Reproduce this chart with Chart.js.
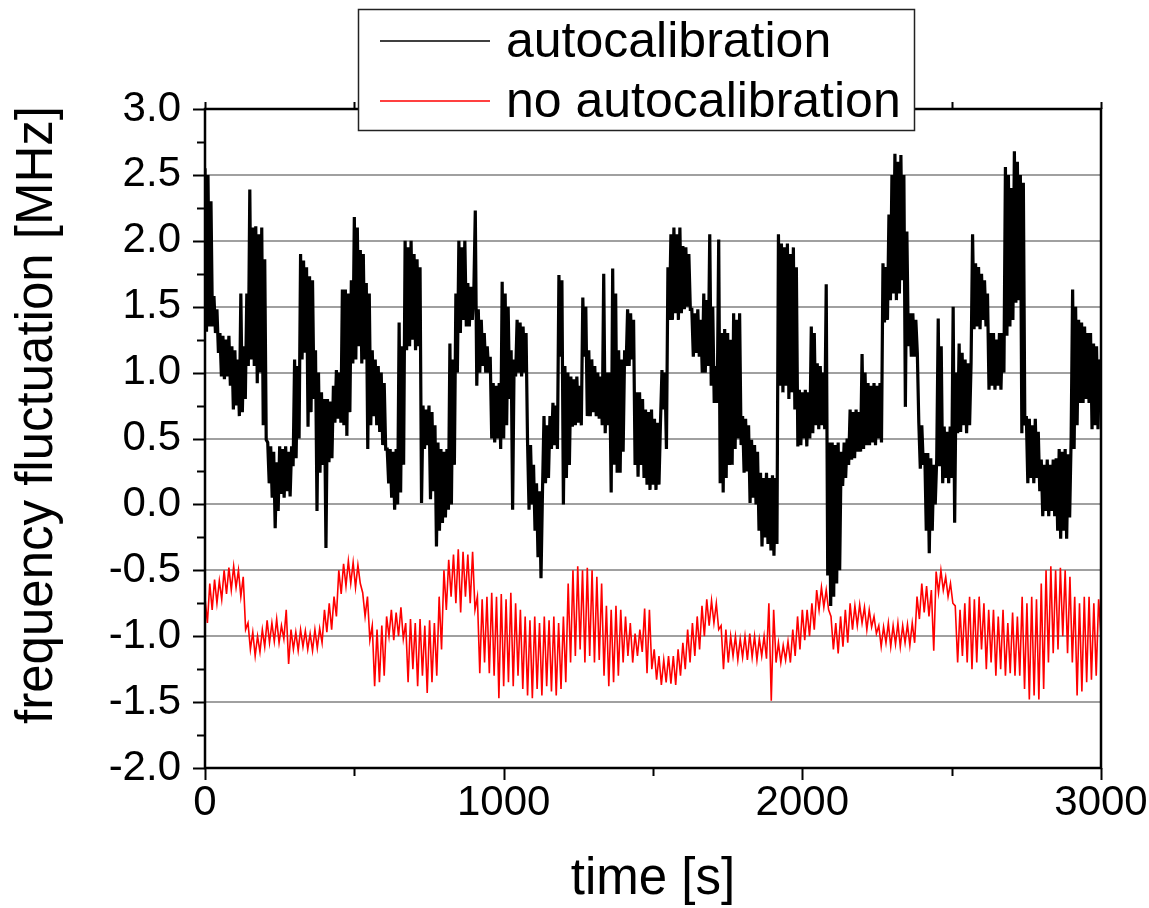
<!DOCTYPE html>
<html>
<head>
<meta charset="utf-8">
<script src="https://cdn.jsdelivr.net/npm/chart.js@4.4.1/dist/chart.umd.min.js"></script>
<style>
  html, body { margin: 0; padding: 0; background: #fff; }
  #wrap { width: 1149px; height: 908px; }
</style>
</head>
<body>
<div id="wrap"><canvas id="freq_chart" width="1149" height="908"></canvas></div>
<script>
// sample spacing of the two records, in s (0 .. 3000 s)
const auto_step = 5;
const noauto_step = 8;
const series_labels = ["autocalibration", "no autocalibration"];
const x_tick_values = [0, 1000, 2000, 3000];
const y_tick_values = [-2.0, -1.5, -1.0, -0.5, 0.0, 0.5, 1.0, 1.5, 2.0, 2.5, 3.0];

// MHz, with autocalibration (black), one value every 5 s
const auto_values = [
  2.55, 1.31, 2.5, 1.35, 2.3,
  1.35, 1.58, 1.3, 1.48, 1.15,
  1.3, 0.97, 1.28, 0.95, 1.25, 0.97, 1.28, 0.9, 1.2,
  0.72, 1.17, 0.75, 1.1,
  0.67, 1.6, 0.7, 1.2,
  0.8, 1.6, 1.05, 2.39, 1.1,
  2.1, 1.05, 2.11, 0.92, 2.05, 1.0, 2.1,
  0.6, 1.86, 0.49,
  0.47, 0.16, 0.44, 0.05, 0.4, -0.18, 0.32, -0.05,
  0.44, 0.08, 0.42, 0.05, 0.44, 0.1, 0.4, 0.06, 0.44,
  0.29, 1.1, 0.35, 1.05, 0.5,
  1.9, 1.1, 1.85, 1.15, 1.8,
  0.59, 1.73, 0.7, 1.7, 0.8,
  1.17, -0.05, 1.0,
  0.24, 0.85, 0.3, 0.8, -0.33,
  0.8, 0.32, 0.78, 0.35, 0.9,
  0.62, 1.02, 0.65, 1.0, 0.62, 1.63,
  0.6, 1.63, 0.52, 1.6, 0.7, 1.7,
  1.07, 2.18, 1.1, 2.1, 1.2,
  1.93, 1.07, 1.9, 1.1, 1.68,
  0.42, 1.6, 0.6,
  1.17, 0.67, 1.1, 0.6, 1.05, 0.55, 1.0, 0.45, 0.92, 0.42,
  0.42, 0.16, 0.42, 0.05, 0.4, -0.04, 0.42, 0.0,
  1.38, 0.09, 1.2, 0.3,
  2.0, 1.17, 1.95, 1.2, 2.0, 1.25, 1.9, 1.17,
  1.86, 1.2, 1.8, 0.01,
  0.75, 0.42, 0.72, 0.45,
  0.75, 0.04, 0.7, 0.1, 0.6,
  -0.32, 0.47, -0.2,
  0.42, -0.14, 0.4, -0.1, 0.42, -0.04,
  1.22, 0.0, 1.1, 0.3, 1.6, 1.0,
  2.0, 1.3, 1.95, 1.4, 2.0, 1.35,
  1.68, 1.35, 1.65, 1.4, 1.6,
  2.23,
  0.9, 1.48, 1.0, 1.4, 1.05, 1.3, 1.0, 1.2, 1.0, 1.12,
  0.5, 0.92, 0.47, 0.9, 0.5, 0.92,
  0.42, 1.69, 0.5, 1.6, 0.6, 1.5, 0.8,
  1.17, -0.04, 1.1,
  0.97, 1.4, 1.0, 1.38, 0.97, 1.35, 1.0, 1.3,
  0.47, -0.04, 0.45, 0.0, 0.3,
  -0.2, 0.16, -0.4, 0.1, -0.56, 0.1,
  0.67, 0.16, 0.6, 0.2, 0.67,
  0.42, 0.77, 0.45, 0.75, 0.42,
  1.74, 1.12, 1.7,
  0.0, 1.05, 0.2, 1.0, 0.3,
  0.97, 0.59, 0.95, 0.6, 0.97, 0.62, 0.9, 0.6,
  1.57, 1.12, 1.5,
  0.67, 1.17, 0.67, 1.1, 0.7, 1.05, 0.67, 1.0, 0.65, 0.97, 0.6,
  1.75, 0.54, 1.0, 0.6, 1.0,
  0.09, 1.79, 0.3, 1.6, 0.24,
  1.17, 0.24, 1.1, 0.4, 1.17,
  1.05, 1.48, 1.05, 1.45, 1.1, 1.4,
  0.3, 0.85, 0.21, 0.85, 0.3, 0.8,
  0.2, 0.72, 0.15, 0.7, 0.11, 0.72, 0.15, 0.65, 0.11, 0.62, 0.15, 0.62,
  1.02, 0.72, 1.0,
  0.42, 1.8, 1.4, 2.05, 1.4, 2.1, 1.45, 2.05, 1.4, 2.1, 1.45,
  1.96, 1.48, 1.95, 1.5, 1.9, 1.48,
  1.48, 1.12, 1.45, 1.15, 1.48, 1.12, 1.4,
  1.0, 1.6, 1.0, 1.55, 1.05,
  2.05, 0.9, 1.5,
  0.77, 1.05, 0.77,
  2.01, 0.16, 1.3,
  0.09, 1.33, 0.2, 1.3, 0.3, 1.25, 0.3,
  1.45, 0.42, 1.4, 0.5, 1.45, 0.45,
  0.67, 0.24, 0.65, 0.25, 0.6,
  0.01, 0.49, 0.05, 0.45, 0.0, 0.4,
  -0.2, 0.24, -0.32, 0.2, -0.25, 0.24, -0.3, 0.2, -0.35, 0.22, -0.39, 0.2, -0.3,
  2.05, 0.9, 1.98, 0.85, 1.95, 0.9, 1.98, 0.8, 1.9, 0.85, 1.95, 0.72, 1.8,
  0.44, 0.87, 0.45, 0.85, 0.5, 0.87, 0.44, 0.85, 0.5,
  1.35, 0.54, 1.3, 0.6,
  1.07, 0.57, 1.05, 0.6, 1.0, 0.57,
  1.67, -0.54, 0.47,
  -0.77, 0.47, -0.7, 0.45, -0.6, 0.47, -0.5, 0.4,
  0.14, 0.47, 0.2, 0.5, 0.3,
  0.72, 0.34, 0.7, 0.35, 0.72, 0.4, 0.7, 0.4,
  1.14, 0.42, 1.0, 0.45, 0.92,
  0.45, 0.9, 0.47, 0.92, 0.45, 0.9, 0.5, 0.92, 0.47,
  1.83, 1.38, 1.8, 1.4, 2.2,
  1.55, 2.5, 1.6, 2.66, 1.55, 2.6, 1.6, 2.65, 1.7, 2.5,
  0.74, 2.07, 1.2, 1.45, 1.12,
  1.45, 1.12, 1.4, 1.15,
  0.62, 0.27, 0.6, 0.3, 0.39,
  -0.2, 0.39, -0.37, 0.35, -0.2, 0.3, 0.0, 0.35,
  1.41, 0.29, 1.2,
  0.16, 0.59, 0.2, 0.55, 0.16, 0.59, 0.2,
  1.5, -0.14, 1.0,
  0.54, 1.22, 0.55, 1.15, 0.6, 1.1, 0.54, 1.07, 0.6, 1.07,
  2.05,
  1.33, 1.83, 1.35, 1.8, 1.33, 1.75, 1.4, 1.7, 1.35, 1.6,
  0.87, 1.3, 0.9, 1.3, 0.87, 1.25, 0.9, 1.3, 0.87, 1.3, 1.0,
  2.56, 1.28, 2.5, 1.35, 2.4, 1.4,
  2.68, 1.53, 2.6, 1.55, 2.5,
  0.54, 2.44, 0.6,
  0.67, 0.16, 0.65, 0.2, 0.6, 0.16, 0.65, 0.2, 0.55, 0.1,
  0.34, -0.09, 0.3, -0.05, 0.34, -0.09, 0.3, -0.05, 0.34, -0.09, 0.35,
  -0.2, 0.42, -0.26, 0.4, -0.2, 0.42, -0.26, 0.38, -0.1, 0.5,
  1.63, 0.42, 1.5, 0.6, 1.4, 0.77,
  1.38, 0.77, 1.35, 0.8, 1.3, 0.77, 1.3,
  0.57, 1.22, 0.6, 1.2, 0.57, 1.1, 0.9
];

// MHz, without autocalibration (red), one value every 8 s
const noauto_values = [
  -0.71, -0.9, -0.6, -0.8, -0.57, -0.75, -0.58, -0.72, -0.5, -0.68,
  -0.48, -0.65, -0.47, -0.63, -0.5, -0.7, -0.55, -0.95, -0.9, -1.1,
  -0.97, -1.15, -1.0, -1.12, -0.95, -1.08, -0.88, -1.05, -0.9, -1.04,
  -0.87, -1.05, -0.92, -1.02, -0.8, -1.21, -0.95, -1.1, -0.97, -1.11,
  -0.95, -1.08, -0.96, -1.1, -0.98, -1.11, -0.95, -1.09, -0.94, -1.05,
  -0.8, -0.97, -0.75, -0.95, -0.7, -0.85, -0.5, -0.68, -0.45, -0.62,
  -0.43, -0.6, -0.44, -0.63, -0.46, -0.6, -0.67, -0.85, -0.7, -1.03,
  -0.92, -1.38, -0.95, -1.35, -0.92, -1.3, -0.85, -1.0, -0.8, -1.03,
  -0.82, -1.0, -0.78, -1.02, -0.9, -1.35, -0.87, -1.25, -0.9, -1.38,
  -0.87, -1.3, -0.92, -1.43, -0.88, -1.35, -0.9, -1.3, -0.7, -1.1,
  -0.5, -0.8, -0.42, -0.7, -0.38, -0.75, -0.34, -0.82, -0.36, -0.7,
  -0.38, -0.75, -0.36, -0.8, -0.7, -1.28, -0.72, -1.2, -0.7, -1.28,
  -0.67, -1.3, -0.7, -1.47, -0.68, -1.38, -0.72, -1.35, -0.67, -1.38,
  -0.75, -1.3, -0.8, -1.4, -0.85, -1.45, -0.88, -1.47, -0.85, -1.4,
  -0.9, -1.45, -0.85, -1.38, -0.88, -1.42, -0.85, -1.45, -0.9, -1.4,
  -0.85, -1.35, -0.6, -1.2, -0.5, -1.15, -0.47, -1.1, -0.5, -1.2,
  -0.48, -1.15, -0.5, -1.2, -0.55, -1.18, -0.6, -1.3, -0.77, -1.38,
  -0.8, -1.35, -0.77, -1.3, -0.8, -1.2, -0.85, -1.15, -0.9, -1.2,
  -0.98, -1.15, -0.95, -1.12, -0.79, -1.28, -0.8, -1.25, -1.1, -1.33,
  -1.15, -1.37, -1.18, -1.35, -1.15, -1.36, -1.15, -1.37, -1.1, -1.3,
  -1.05, -1.25, -0.95, -1.2, -0.9, -1.15, -0.85, -1.1, -0.77, -1.0,
  -0.72, -0.92, -0.73, -0.9, -0.75, -0.95, -0.92, -1.25, -0.95, -1.2,
  -1.0, -1.15, -1.0, -1.18, -1.02, -1.16, -1.0, -1.18, -0.98, -1.16,
  -1.0, -1.18, -1.02, -1.15, -1.0, -1.17, -0.75, -1.49, -0.8, -1.2,
  -1.05, -1.2, -1.07, -1.18, -1.04, -1.2, -0.95, -1.15, -0.85, -1.1,
  -0.8, -1.03, -0.8, -1.0, -0.75, -0.95, -0.65, -0.8, -0.63, -0.78,
  -0.65, -0.8, -0.85, -1.1, -0.9, -1.13, -0.85, -1.08, -0.8, -1.05,
  -0.75, -0.95, -0.77, -0.92, -0.76, -0.9, -0.78, -0.95, -0.8, -0.93,
  -0.85, -0.98, -0.92, -1.08, -0.93, -1.05, -0.9, -1.08, -0.92, -1.06,
  -0.9, -1.08, -0.92, -1.05, -0.91, -1.07, -0.9, -1.05, -0.7, -0.87,
  -0.6, -0.82, -0.62, -0.85, -0.65, -1.11, -0.51, -0.67, -0.5, -0.65,
  -0.55, -0.7, -0.6, -0.75, -0.77, -1.2, -0.8, -1.15, -0.75, -1.2,
  -0.7, -1.25, -0.72, -1.2, -0.7, -1.1, -0.75, -1.25, -0.8, -1.2,
  -0.8, -1.3, -0.85, -1.25, -0.8, -1.3, -0.9, -1.28, -0.82, -1.3,
  -0.85, -1.3, -0.7, -1.4, -0.75, -1.48, -0.7, -1.45, -0.72, -1.48,
  -0.6, -1.4, -0.5, -1.2, -0.47, -1.13, -0.5, -1.1, -0.48, -1.0,
  -0.5, -1.13, -0.55, -1.2, -0.7, -1.45, -0.75, -1.42, -0.7, -1.35,
  -0.7, -1.33, -0.75, -1.3, -0.72, -1.0
];

const ctx = document.getElementById("freq_chart").getContext("2d");
const font_family = "'Liberation Sans', Arial, sans-serif";
Chart.defaults.font.family = font_family;
Chart.defaults.color = "#000";

// value list -> {x, y} with the sample time
function toPoints(values, step) {
  return values.map((v, i) => ({ x: i * step, y: v }));
}

// frame, tick marks, axis titles and the boxed legend
const frame_plugin = {
  id: "frame_plugin",
  afterDraw(chart) {
    const c = chart.ctx;
    const area = chart.chartArea;
    const xs = chart.scales.x;
    const ys = chart.scales.y;
    c.save();
    c.strokeStyle = "#000";

    // y ticks (outside, left)
    c.lineWidth = 2;
    for (let v = -2; v <= 3.001; v += 0.25) {
      const py = Math.round(ys.getPixelForValue(v)) + 0.5;
      const len = Math.abs(v * 2 - Math.round(v * 2)) < 0.01 ? 12 : 8;
      c.beginPath();
      c.moveTo(area.left - len, py);
      c.lineTo(area.left, py);
      c.stroke();
    }
    // x ticks (outside, bottom and top)
    for (let t = 0; t <= 3000; t += 500) {
      const px = Math.round(xs.getPixelForValue(t)) + 0.5;
      const len = t % 1000 === 0 ? 12 : 8;
      c.beginPath();
      c.moveTo(px, area.bottom);
      c.lineTo(px, area.bottom + len);
      c.moveTo(px, area.top);
      c.lineTo(px, area.top - 7);
      c.stroke();
    }

    // frame
    c.lineWidth = 2.5;
    c.strokeRect(area.left, area.top, area.right - area.left, area.bottom - area.top);

    // axis titles
    c.fillStyle = "#000";
    c.font = "51px " + font_family;
    c.textAlign = "center";
    c.textBaseline = "middle";
    c.fillText("time [s]", (area.left + area.right) / 2, 880);
    c.save();
    c.translate(38, 415);
    c.rotate(-Math.PI / 2);
    c.fillText("frequency fluctuation [MHz]", 0, 0);
    c.restore();

    // legend box
    const box = { left: 358, top: 9, right: 914, bottom: 130 };
    c.fillStyle = "#fff";
    c.fillRect(box.left, box.top, box.right - box.left, box.bottom - box.top);
    c.lineWidth = 1.5;
    c.strokeStyle = "#222";
    c.strokeRect(box.left + 0.5, box.top + 0.5, box.right - box.left, box.bottom - box.top);
    chart.data.datasets.forEach((ds, i) => {
      const ly = 41 + i * 60;
      c.strokeStyle = ds.borderColor;
      c.lineWidth = 1.5;
      c.beginPath();
      c.moveTo(380, ly);
      c.lineTo(490, ly);
      c.stroke();
      c.fillStyle = "#000";
      c.font = "50px " + font_family;
      c.textAlign = "left";
      c.textBaseline = "middle";
      c.fillText(ds.label, 506, ly + 2);
    });
    c.restore();
  }
};

new Chart(ctx, {
  type: "line",
  data: {
    datasets: [
      {
        label: series_labels[0],
        data: toPoints(auto_values, auto_step),
        borderColor: "#000000",
        borderWidth: 3.2,
        pointRadius: 0,
        tension: 0,
      },
      {
        label: series_labels[1],
        data: toPoints(noauto_values, noauto_step),
        borderColor: "#ff0000",
        borderWidth: 1.6,
        pointRadius: 0,
        tension: 0,
      },
    ],
  },
  options: {
    responsive: false,
    animation: false,
    layout: { padding: { top: 109, right: 48, left: 0, bottom: 0 } },
    plugins: {
      legend: { display: false },
      tooltip: { enabled: false },
    },
    scales: {
      x: {
        type: "linear",
        min: 0,
        max: 3000,
        afterBuildTicks: (scale) => {
          scale.ticks = x_tick_values.map((v) => ({ value: v }));
        },
        afterFit: (scale) => {
          scale.height = 140;
          scale.paddingLeft = 0;
          scale.paddingRight = 0;
        },
        ticks: {
          font: { size: 42 },
          padding: 10,
          maxRotation: 0,
          callback: (v) => String(v),
        },
        grid: { display: false, drawTicks: false },
        border: { display: false },
      },
      y: {
        min: -2,
        max: 3,
        afterBuildTicks: (scale) => {
          scale.ticks = y_tick_values.map((v) => ({ value: v }));
        },
        afterFit: (scale) => {
          scale.width = 205;
        },
        ticks: {
          font: { size: 42 },
          padding: 24,
          callback: (v) => v.toFixed(1),
        },
        grid: {
          drawTicks: false,
          lineWidth: 2,
          color: (c) =>
            c.tick && (c.tick.value === 3 || c.tick.value === -2) ? "rgba(0,0,0,0)" : "#a0a0a0",
        },
        border: { display: false },
      },
    },
  },
  plugins: [frame_plugin],
});
</script>
</body>
</html>
